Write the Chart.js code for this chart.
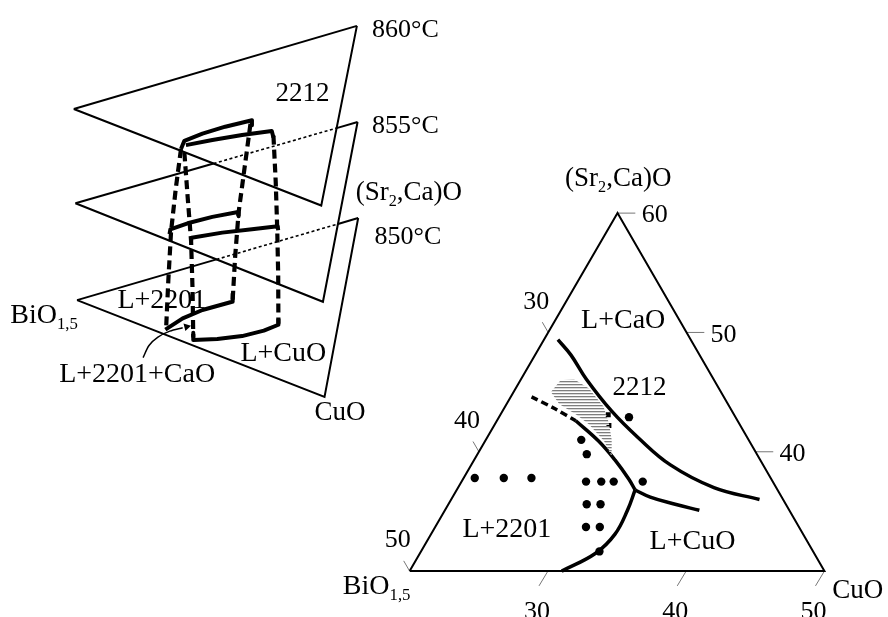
<!DOCTYPE html>
<html lang="en">
<head>
<meta charset="UTF-8">
<title>Bi-Sr-Ca-Cu-O sections</title>
<script src="https://cdn.jsdelivr.net/npm/chart.js"></script>
<style>
  html, body { margin: 0; padding: 0; background: #fff; }
  canvas { display: block; }
</style>
</head>
<body>
<canvas id="diagram" width="888" height="617"></canvas>
<script>
// ---- stacked isothermal sections (sheet units) ----
const planeTemps = [860, 855, 850];
const planeLeft = [[70, 106], [71.7, 201.7], [73.3, 300]];
const planeTop = [[356, 21.7], [356.7, 119.3], [357.3, 216.7]];
const planeBottom = [[320, 204], [321.7, 301.7], [323.3, 398.3]];

// phase boundaries traced on each section
const arc860a = [[178.3, 146.7], [181.7, 138.3], [200, 131], [223, 124], [250, 117.5], [250, 122.5]];
const arc860b = [[183.3, 142.7], [210, 137.5], [240, 132.5], [270, 128.3], [271.7, 135]];
const arc855a = [[166.7, 233], [167.5, 228.3], [185, 222], [210, 215.5], [236, 210.5], [236.5, 215]];
const arc855b = [[188.3, 241], [189, 236.7], [220, 231.5], [250, 228], [276, 225], [276.5, 229]];
const arc850a = [[162.5, 330], [180, 318.5], [200, 310], [230, 301.7], [230.5, 293]];
const arc850b = [[190.7, 333], [190.7, 340.5], [215, 339.5], [240, 336.5], [262, 331], [276.7, 325], [276.7, 319]];

// dashed walls joining the sections
const wall1 = [[178.3, 146.7], [173, 187], [168.3, 230], [165.5, 280], [163.3, 328]];
const wall2 = [[181.7, 150], [185, 195], [188.5, 240], [190, 290], [190.7, 338]];
const wall3 = [[248.5, 121], [242.5, 166], [236.5, 211], [233, 256], [230.5, 300]];
const wall4 = [[271.7, 133], [274, 180], [275.5, 227], [276.5, 275], [276.7, 324]];

const pointer = [[140, 358.3], [146, 346], [155, 337.5], [167, 331.5], [180, 328]];
const pointerHead = [184, 327];

// ---- ternary section, [CuO %, (Sr2,Ca)O %] ----
const cuoRange = [20, 50];
const srcaRange = [30, 60];
const bottomTicks = [30, 40, 50];   // CuO
const leftTicks = [30, 40, 50];     // BiO1.5
const rightTicks = [60, 50, 40];    // (Sr2,Ca)O

const lineCaO = [[21.0, 49.4], [22.6, 48.1], [24.7, 46.1], [27.9, 43.4], [30.9, 41.2], [34.4, 38.9], [38.5, 37.0], [42.3, 36.0]];
const line2201Dashed = [[21.5, 44.6], [23.7, 43.6], [25.7, 42.6]];
const line2201 = [[25.7, 42.6], [28.2, 40.9], [30.2, 39.3], [32.0, 37.7], [32.9, 36.8]];
const lineLower = [[32.9, 36.8], [33.2, 35.1], [33.3, 33.1], [32.7, 31.5], [31.0, 30.0]];
const lineCuO = [[32.9, 36.8], [34.3, 36.2], [36.4, 35.6], [38.4, 35.1]];
const region2212 = [[22.9, 46.0], [23.8, 46.1], [25.3, 45.3], [27.1, 43.8], [28.2, 42.4], [29.1, 41.0], [29.8, 39.6],
                    [28.6, 40.9], [26.8, 42.3], [25.5, 43.1], [23.8, 44.0], [22.7, 45.0]];

const sampleCuO  = [20.8, 22.9, 24.9, 29.0, 30.1, 31.0, 33.1, 30.0, 31.0, 30.9, 31.9, 32.9, 26.9, 27.9, 29.4];
const sampleSrCa = [37.8, 37.8, 37.8, 37.5, 37.5, 37.5, 37.5, 35.6, 35.6, 33.7, 33.7, 31.65, 41.0, 39.8, 42.9];
const squareCuO  = [27.8, 28.3];
const squareSrCa = [43.1, 42.2];

// triangle corners on the sheet
const CORNER_BI = [409.3, 575];
const CORNER_CU = [828.3, 575];
const CORNER_TOP = [619.3, 211.7];

function tern(cuo, srca) {
  const a = (cuo - cuoRange[0]) / (cuoRange[1] - cuoRange[0]);
  const b = (srca - srcaRange[0]) / (srcaRange[1] - srcaRange[0]);
  return [
    CORNER_BI[0] + (CORNER_CU[0] - CORNER_BI[0]) * a + (CORNER_TOP[0] - CORNER_BI[0]) * b,
    CORNER_BI[1] + (CORNER_CU[1] - CORNER_BI[1]) * a + (CORNER_TOP[1] - CORNER_BI[1]) * b
  ];
}
const ternAll = pts => pts.map(p => tern(p[0], p[1]));

function intersect(p1, p2, p3, p4) {
  const d = (p2[0] - p1[0]) * (p4[1] - p3[1]) - (p2[1] - p1[1]) * (p4[0] - p3[0]);
  const t = ((p3[0] - p1[0]) * (p4[1] - p3[1]) - (p3[1] - p1[1]) * (p4[0] - p3[0])) / d;
  return [p1[0] + t * (p2[0] - p1[0]), p1[1] + t * (p2[1] - p1[1])];
}

const datasets = [];
function line(points, opts) {
  datasets.push(Object.assign({
    data: points.map(p => ({x: p[0], y: p[1]})),
    showLine: true,
    borderColor: '#000',
    borderWidth: 2,
    pointRadius: 0,
    pointHoverRadius: 0,
    fill: false,
    tension: 0
  }, opts || {}));
}
function dots(xs, ys, opts) {
  datasets.push(Object.assign({
    data: xs.map((c, i) => { const p = tern(c, ys[i]); return {x: p[0], y: p[1]}; }),
    showLine: false,
    pointRadius: 4.2,
    pointHoverRadius: 4.2,
    pointBorderWidth: 0,
    backgroundColor: '#000',
    borderColor: '#000'
  }, opts || {}));
}

// horizontal hatch for the 2212 single-phase field
const hatch = document.createElement('canvas');
hatch.width = 4; hatch.height = 3;
const hctx = hatch.getContext('2d');
hctx.fillStyle = '#7e7e7e';
hctx.fillRect(0, 0, 4, 1);
hctx.fillStyle = '#d8d8d8';
hctx.fillRect(0, 1, 4, 1);
const hatchPattern = hctx.createPattern(hatch, 'repeat');

// sections: the top one is fully visible, lower ones dotted where covered
planeTemps.forEach((t, i) => {
  const L = planeLeft[i], T = planeTop[i], B = planeBottom[i];
  line([T, B, L]);
  if (i === 0) {
    line([L, T]);
  } else {
    const a = intersect(L, T, planeLeft[i - 1], planeBottom[i - 1]);
    const b = intersect(L, T, planeTop[i - 1], planeBottom[i - 1]);
    line([L, a]);
    line([a, b], {borderWidth: 1.6, borderDash: [3, 2.5]});
    line([b, T]);
  }
});

[wall1, wall2, wall3, wall4].forEach(w => line(w, {borderWidth: 4.2, borderDash: [9, 5]}));
[arc860a, arc860b, arc855a, arc855b, arc850a, arc850b].forEach(a => line(a, {borderWidth: 4, borderJoinStyle: 'round'}));
line(pointer, {borderWidth: 1.5, tension: 0.3});
datasets.push({
  data: [{x: pointerHead[0], y: pointerHead[1]}],
  showLine: false, pointStyle: 'triangle', pointRadius: 4.5, rotation: 76,
  backgroundColor: '#000', borderColor: '#000', pointBorderWidth: 0
});

// ternary frame and ticks
line(ternAll([[20, 30], [50, 30], [20, 60], [20, 30]]), {borderWidth: 2});
bottomTicks.forEach(v => { const p = tern(v, 30); line([p, [p[0] - 9, p[1] + 15]], {borderWidth: 1, borderColor: '#777'}); });
leftTicks.forEach(v => { const p = tern(20, 80 - v); line([p, [p[0] - 6, p[1] - 10.4]], {borderWidth: 1, borderColor: '#777'}); });
rightTicks.forEach(v => { const p = tern(80 - v, v); line([p, [p[0] + 18, p[1]]], {borderWidth: 1, borderColor: '#777'}); });

line(ternAll(region2212), {borderWidth: 0, borderColor: 'rgba(0,0,0,0)', backgroundColor: hatchPattern, fill: 'shape'});
line(ternAll(lineCaO), {borderWidth: 3.5, tension: 0.4});
line(ternAll(line2201Dashed), {borderWidth: 3.5, borderDash: [7, 4], tension: 0.3});
line(ternAll(line2201), {borderWidth: 3.5, tension: 0.4});
line(ternAll(lineLower), {borderWidth: 3.5, tension: 0.4});
line(ternAll(lineCuO), {borderWidth: 3.5, tension: 0.4});
dots(sampleCuO, sampleSrCa);
dots(squareCuO, squareSrCa, {pointStyle: 'rect', pointRadius: 3.5});

// labels: [parts], centre x, baseline y, size
const FONT = '"Liberation Serif", "Times New Roman", serif';
const labels = [
  [[[planeTemps[0] + '°C']], 405, 33, 26],
  [[['2212']], 301, 98, 27],
  [[[planeTemps[1] + '°C']], 405, 130, 26],
  [[['(Sr'], ['2', 1], [',Ca)O']], 408.5, 198.5, 27],
  [[[planeTemps[2] + '°C']], 407.5, 243, 26],
  [[['BiO'], ['1,5', 1]], 40, 323, 28],
  [[['L+2201']], 159, 308, 28],
  [[['L+CuO']], 281.7, 361.7, 28],
  [[['L+2201+CaO']], 134, 383, 28],
  [[['CuO']], 339, 422, 27],
  [[['(Sr'], ['2', 1], [',Ca)O']], 620, 184, 27],
  [[['L+CaO']], 625, 328, 28],
  [[['2212']], 641.5, 396.5, 27],
  [[['L+2201']], 507.5, 540, 28],
  [[['L+CuO']], 695, 553, 28],
  [[['BiO'], ['1,5', 1]], 376, 598, 28],
  [[['CuO']], 862, 602, 27]
];
bottomTicks.forEach(v => { const p = tern(v, 30); labels.push([[[String(v)]], p[0] - 11, p[1] + 49, 26]); });
leftTicks.forEach(v => { const p = tern(20, 80 - v); labels.push([[[String(v)]], p[0] - 12, p[1] - 24, 26]); });
rightTicks.forEach(v => { const p = tern(80 - v, v); labels.push([[[String(v)]], p[0] + 37.5, p[1] + 9.5, 26]); });

const textPlugin = {
  id: 'sheetText',
  afterDatasetsDraw(chart) {
    const ctx = chart.ctx;
    const xs = chart.scales.x, ys = chart.scales.y;
    ctx.save();
    ctx.fillStyle = '#000';
    ctx.textBaseline = 'alphabetic';
    ctx.textAlign = 'left';
    labels.forEach(([parts, x, y, size]) => {
      const widths = parts.map(([t, sub]) => {
        ctx.font = (sub ? size * 0.6 : size) + 'px ' + FONT;
        return ctx.measureText(t).width;
      });
      const total = widths.reduce((s, w) => s + w, 0);
      let px = xs.getPixelForValue(x) - total / 2;
      const py = ys.getPixelForValue(y);
      parts.forEach(([t, sub], i) => {
        ctx.font = (sub ? size * 0.6 : size) + 'px ' + FONT;
        ctx.fillText(t, px, sub ? py + size * 0.22 : py);
        px += widths[i];
      });
    });
    ctx.restore();
  }
};

new Chart(document.getElementById('diagram'), {
  type: 'scatter',
  data: {datasets: datasets},
  options: {
    responsive: false,
    animation: false,
    events: [],
    devicePixelRatio: 1,
    layout: {padding: 0},
    plugins: {legend: {display: false}, tooltip: {enabled: false}},
    scales: {
      x: {type: 'linear', min: 0, max: 888, display: false},
      y: {type: 'linear', min: 0, max: 617, reverse: true, display: false}
    }
  },
  plugins: [textPlugin]
});
</script>
</body>
</html>
